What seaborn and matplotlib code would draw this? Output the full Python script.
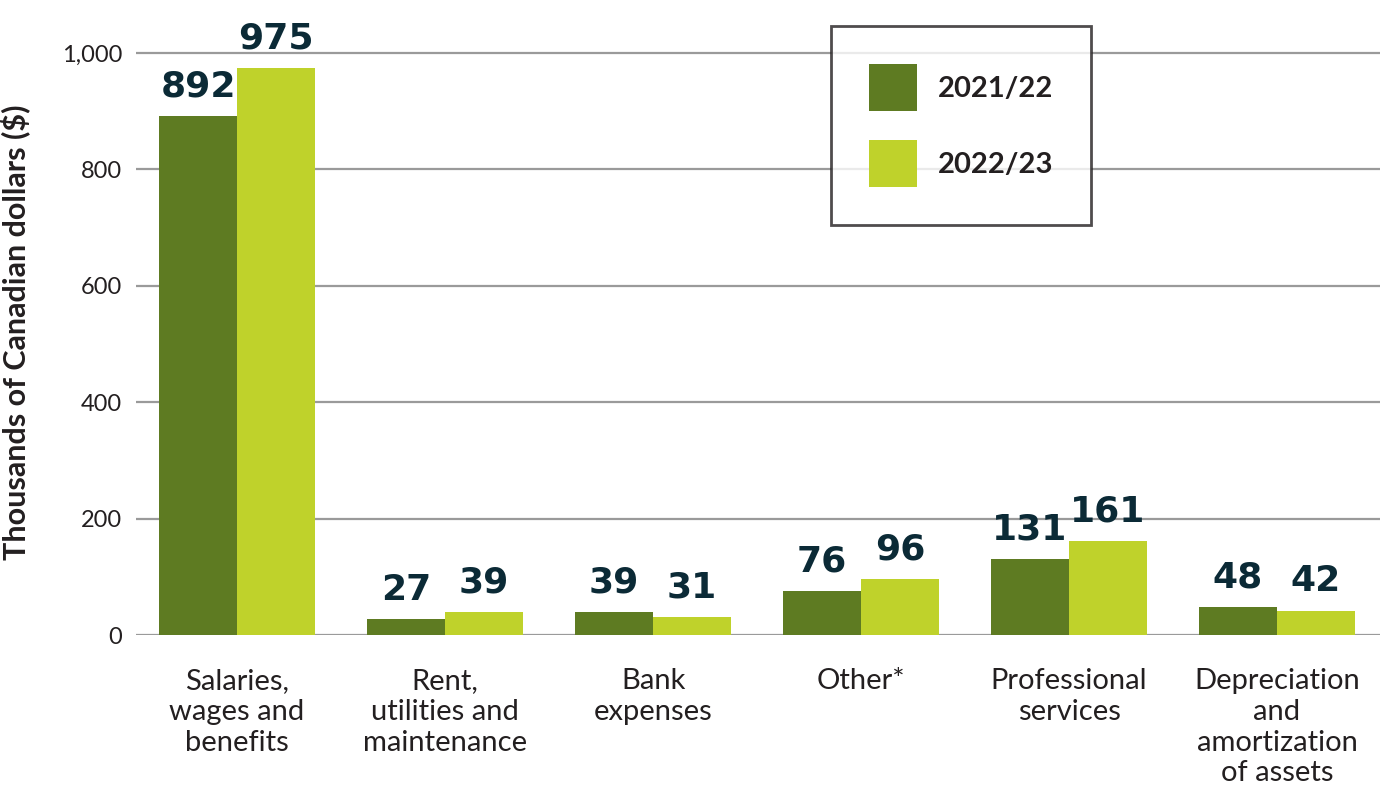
import pandas as pd
import seaborn as sns
import matplotlib.pyplot as plt

categories = ["Salaries,\nwages and\nbenefits", "Rent,\nutilities and\nmaintenance",
              "Bank\nexpenses", "Other*", "Professional\nservices",
              "Depreciation\nand\namortization\nof assets"]
years = ["2021/22", "2022/23"]
vals_2122 = [892, 27, 39, 76, 131, 48]
vals_2223 = [975, 39, 31, 96, 161, 42]
yticks = [0, 200, 400, 600, 800, 1000]

colors = ["#5e7b22", "#bfd22b"]

sns.set_style("white")
plt.rcParams['font.family'] = ['Lato', 'DejaVu Sans']

df = pd.DataFrame({
    "category": categories * 2,
    "year": [years[0]] * len(categories) + [years[1]] * len(categories),
    "value": vals_2122 + vals_2223,
})

fig = plt.figure(figsize=(13.8, 7.93), dpi=100)
ax = fig.add_axes([136 / 1380, (793 - 635) / 793, 1 - 136 / 1380, 635 / 793])

sns.barplot(data=df, x="category", y="value", hue="year", palette=colors,
            width=0.75, gap=0, saturation=1, linewidth=0, ax=ax, zorder=3)

ax.set_ylim(0, 1091)
ax.set_xlim(-0.486, 5.495)
ax.set_yticks(yticks)
ax.set_yticklabels([f"{v:,}" for v in yticks])
ax.yaxis.grid(True, color="#9a9a9a", linewidth=1.6, zorder=0)
ax.set_axisbelow(True)
for s in ax.spines.values():
    s.set_visible(False)
ax.tick_params(axis="y", length=0, pad=10, labelsize=17, labelcolor="#231f20")
ax.tick_params(axis="x", length=0, pad=24, labelsize=21, labelcolor="#231f20")
for t in ax.get_xticklabels():
    t.set_linespacing(1.22)
    t.set_verticalalignment("top")

ax.set_xlabel("")
ax.set_ylabel("Thousands of Canadian dollars ($)", fontsize=22, fontweight="bold",
              color="#231f20")
ax.yaxis.set_label_coords(-0.085, 0.477)

# value labels
for cont in ax.containers:
    for bar in cont:
        h = bar.get_height()
        ax.annotate(f"{h:.0f}", (bar.get_x() + bar.get_width() / 2, h),
                    xytext=(0, 14), textcoords="offset points",
                    ha="center", va="baseline", fontsize=26, fontweight="bold",
                    family="DejaVu Sans", color="#0b2a36")

leg = ax.legend(loc="upper left", bbox_to_anchor=(831 / 1380, 1 - 26 / 793),
                bbox_transform=fig.transFigure, fontsize=21, frameon=True,
                fancybox=False, handlelength=1.65, handleheight=2.1,
                labelspacing=1.0, borderpad=1.3, handletextpad=0.7,
                borderaxespad=0, title=None)
leg.get_frame().set_edgecolor("#231f20")
leg.get_frame().set_linewidth(2)
for t in leg.get_texts():
    t.set_fontweight("bold")
    t.set_color("#231f20")

fig.savefig("out.png", dpi=100)
